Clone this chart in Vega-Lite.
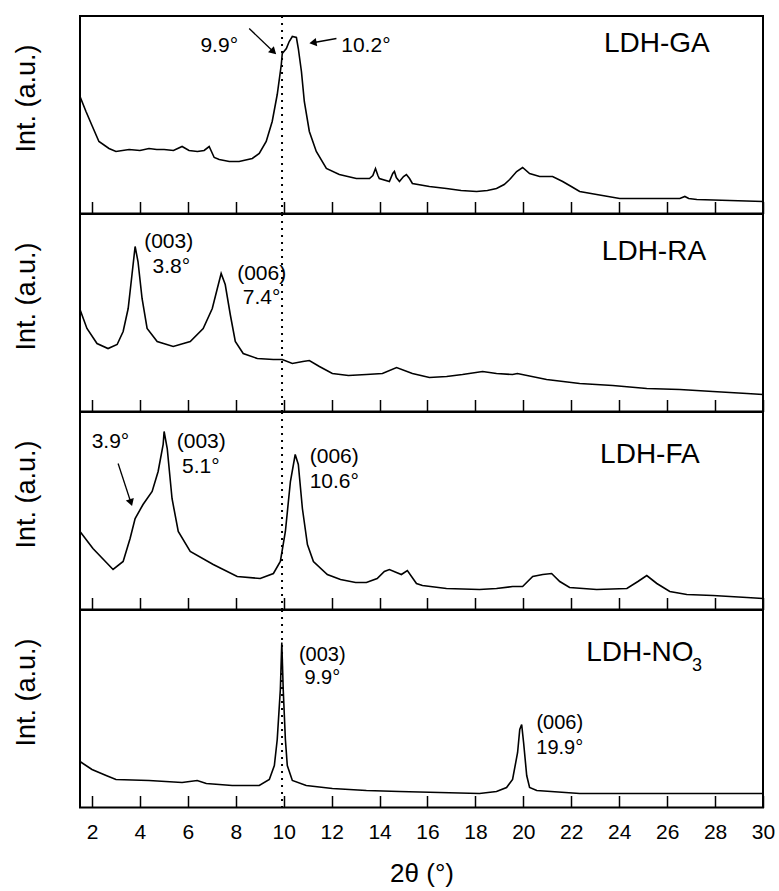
{
  "$schema": "https://vega.github.io/schema/vega-lite/v6.json",
  "background": "white",
  "padding": {"left": 11, "top": 14, "right": 10, "bottom": 5},
  "datasets": {
    "xrd": [
      {"p":"GA","t":1.5,"i":117},{"p":"GA","t":1.75,"i":102},{"p":"GA","t":2.0,"i":88},{"p":"GA","t":2.29,"i":72},{"p":"GA","t":2.71,"i":65},{"p":"GA","t":3.0,"i":62},{"p":"GA","t":3.55,"i":64},{"p":"GA","t":4.0,"i":63},{"p":"GA","t":4.38,"i":65},{"p":"GA","t":4.7,"i":64},{"p":"GA","t":5.01,"i":64},{"p":"GA","t":5.4,"i":63},{"p":"GA","t":5.76,"i":67},{"p":"GA","t":6.05,"i":63},{"p":"GA","t":6.4,"i":62},{"p":"GA","t":6.68,"i":63},{"p":"GA","t":6.89,"i":67},{"p":"GA","t":7.1,"i":56},{"p":"GA","t":7.31,"i":54},{"p":"GA","t":7.73,"i":52},{"p":"GA","t":8.14,"i":52},{"p":"GA","t":8.69,"i":55},{"p":"GA","t":8.98,"i":60},{"p":"GA","t":9.27,"i":72},{"p":"GA","t":9.52,"i":92},{"p":"GA","t":9.73,"i":119},{"p":"GA","t":9.9,"i":149},{"p":"GA","t":9.94,"i":160},{"p":"GA","t":10.11,"i":165},{"p":"GA","t":10.23,"i":172},{"p":"GA","t":10.36,"i":177},{"p":"GA","t":10.53,"i":176},{"p":"GA","t":10.61,"i":165},{"p":"GA","t":10.74,"i":142},{"p":"GA","t":10.86,"i":112},{"p":"GA","t":11.07,"i":82},{"p":"GA","t":11.36,"i":62},{"p":"GA","t":11.78,"i":45},{"p":"GA","t":12.32,"i":39},{"p":"GA","t":13.03,"i":35},{"p":"GA","t":13.58,"i":35},{"p":"GA","t":13.72,"i":38},{"p":"GA","t":13.83,"i":45},{"p":"GA","t":13.93,"i":38},{"p":"GA","t":13.99,"i":35},{"p":"GA","t":14.41,"i":32},{"p":"GA","t":14.55,"i":40},{"p":"GA","t":14.62,"i":42},{"p":"GA","t":14.7,"i":36},{"p":"GA","t":14.83,"i":32},{"p":"GA","t":15.0,"i":37},{"p":"GA","t":15.12,"i":39},{"p":"GA","t":15.25,"i":35},{"p":"GA","t":15.37,"i":30},{"p":"GA","t":16.08,"i":27},{"p":"GA","t":16.79,"i":25},{"p":"GA","t":17.4,"i":23},{"p":"GA","t":18.05,"i":22},{"p":"GA","t":18.5,"i":23},{"p":"GA","t":18.88,"i":25},{"p":"GA","t":19.2,"i":29},{"p":"GA","t":19.43,"i":34},{"p":"GA","t":19.72,"i":42},{"p":"GA","t":19.97,"i":46},{"p":"GA","t":20.26,"i":40},{"p":"GA","t":20.68,"i":37},{"p":"GA","t":21.0,"i":37},{"p":"GA","t":21.22,"i":37},{"p":"GA","t":21.64,"i":32},{"p":"GA","t":22.0,"i":27},{"p":"GA","t":22.35,"i":22},{"p":"GA","t":23.06,"i":19},{"p":"GA","t":24.02,"i":15},{"p":"GA","t":25.15,"i":15},{"p":"GA","t":26.0,"i":15},{"p":"GA","t":26.53,"i":15},{"p":"GA","t":26.74,"i":17},{"p":"GA","t":26.9,"i":15},{"p":"GA","t":27.24,"i":14},{"p":"GA","t":28.62,"i":13},{"p":"GA","t":30,"i":12},
      {"p":"RA","t":1.5,"i":102},{"p":"RA","t":1.79,"i":83},{"p":"RA","t":2.21,"i":68},{"p":"RA","t":2.67,"i":63},{"p":"RA","t":3.05,"i":67},{"p":"RA","t":3.3,"i":80},{"p":"RA","t":3.51,"i":103},{"p":"RA","t":3.67,"i":137},{"p":"RA","t":3.8,"i":165},{"p":"RA","t":3.92,"i":150},{"p":"RA","t":4.09,"i":113},{"p":"RA","t":4.3,"i":83},{"p":"RA","t":4.72,"i":70},{"p":"RA","t":5.39,"i":65},{"p":"RA","t":6.1,"i":70},{"p":"RA","t":6.64,"i":83},{"p":"RA","t":7.02,"i":103},{"p":"RA","t":7.23,"i":123},{"p":"RA","t":7.39,"i":138},{"p":"RA","t":7.56,"i":127},{"p":"RA","t":7.77,"i":97},{"p":"RA","t":7.98,"i":70},{"p":"RA","t":8.31,"i":58},{"p":"RA","t":8.9,"i":53},{"p":"RA","t":9.57,"i":52},{"p":"RA","t":9.94,"i":52},{"p":"RA","t":10.36,"i":48},{"p":"RA","t":10.8,"i":50},{"p":"RA","t":11.07,"i":51},{"p":"RA","t":11.49,"i":45},{"p":"RA","t":12.03,"i":38},{"p":"RA","t":12.7,"i":36},{"p":"RA","t":13.45,"i":37},{"p":"RA","t":14.12,"i":38},{"p":"RA","t":14.71,"i":44},{"p":"RA","t":15.37,"i":38},{"p":"RA","t":16.08,"i":34},{"p":"RA","t":16.8,"i":35},{"p":"RA","t":17.46,"i":37},{"p":"RA","t":18.3,"i":40},{"p":"RA","t":18.88,"i":38},{"p":"RA","t":19.55,"i":37},{"p":"RA","t":19.75,"i":38},{"p":"RA","t":20.97,"i":32},{"p":"RA","t":22.35,"i":28},{"p":"RA","t":23.73,"i":26},{"p":"RA","t":25.15,"i":23},{"p":"RA","t":26.53,"i":22},{"p":"RA","t":27.91,"i":20},{"p":"RA","t":29.33,"i":18},{"p":"RA","t":30,"i":17},
      {"p":"FA","t":1.5,"i":78},{"p":"FA","t":2.04,"i":61},{"p":"FA","t":2.88,"i":40},{"p":"FA","t":3.3,"i":48},{"p":"FA","t":3.59,"i":71},{"p":"FA","t":3.8,"i":91},{"p":"FA","t":4.13,"i":105},{"p":"FA","t":4.51,"i":118},{"p":"FA","t":4.76,"i":138},{"p":"FA","t":4.97,"i":165},{"p":"FA","t":5.01,"i":178},{"p":"FA","t":5.14,"i":161},{"p":"FA","t":5.34,"i":111},{"p":"FA","t":5.6,"i":78},{"p":"FA","t":6.1,"i":58},{"p":"FA","t":7.06,"i":45},{"p":"FA","t":8.06,"i":33},{"p":"FA","t":9.02,"i":31},{"p":"FA","t":9.57,"i":36},{"p":"FA","t":9.86,"i":48},{"p":"FA","t":10.07,"i":78},{"p":"FA","t":10.28,"i":128},{"p":"FA","t":10.48,"i":155},{"p":"FA","t":10.61,"i":145},{"p":"FA","t":10.78,"i":101},{"p":"FA","t":10.99,"i":65},{"p":"FA","t":11.24,"i":48},{"p":"FA","t":11.82,"i":35},{"p":"FA","t":12.37,"i":30},{"p":"FA","t":13.0,"i":27},{"p":"FA","t":13.45,"i":27},{"p":"FA","t":13.9,"i":31},{"p":"FA","t":14.2,"i":38},{"p":"FA","t":14.41,"i":40},{"p":"FA","t":14.91,"i":35},{"p":"FA","t":15.16,"i":39},{"p":"FA","t":15.54,"i":26},{"p":"FA","t":15.79,"i":24},{"p":"FA","t":16.79,"i":21},{"p":"FA","t":18.17,"i":20},{"p":"FA","t":18.88,"i":21},{"p":"FA","t":19.55,"i":23},{"p":"FA","t":19.97,"i":23},{"p":"FA","t":20.39,"i":33},{"p":"FA","t":20.81,"i":35},{"p":"FA","t":21.18,"i":36},{"p":"FA","t":21.52,"i":28},{"p":"FA","t":21.93,"i":22},{"p":"FA","t":23.06,"i":20},{"p":"FA","t":24.32,"i":21},{"p":"FA","t":24.78,"i":28},{"p":"FA","t":25.15,"i":34},{"p":"FA","t":25.57,"i":26},{"p":"FA","t":26.11,"i":18},{"p":"FA","t":26.82,"i":15},{"p":"FA","t":27.91,"i":14},{"p":"FA","t":29.33,"i":12},{"p":"FA","t":30,"i":11},
      {"p":"NO","t":1.5,"i":46},{"p":"NO","t":2.0,"i":38},{"p":"NO","t":2.59,"i":32},{"p":"NO","t":3.0,"i":28},{"p":"NO","t":4.38,"i":27},{"p":"NO","t":5.76,"i":25},{"p":"NO","t":6.39,"i":27},{"p":"NO","t":6.77,"i":24},{"p":"NO","t":7.85,"i":22},{"p":"NO","t":8.98,"i":22},{"p":"NO","t":9.4,"i":28},{"p":"NO","t":9.61,"i":42},{"p":"NO","t":9.73,"i":68},{"p":"NO","t":9.86,"i":118},{"p":"NO","t":9.92,"i":165},{"p":"NO","t":9.98,"i":118},{"p":"NO","t":10.07,"i":68},{"p":"NO","t":10.15,"i":42},{"p":"NO","t":10.36,"i":27},{"p":"NO","t":10.94,"i":22},{"p":"NO","t":12.03,"i":19},{"p":"NO","t":13.45,"i":17},{"p":"NO","t":14.83,"i":16},{"p":"NO","t":18.17,"i":14},{"p":"NO","t":18.88,"i":16},{"p":"NO","t":19.3,"i":20},{"p":"NO","t":19.55,"i":28},{"p":"NO","t":19.76,"i":55},{"p":"NO","t":19.85,"i":78},{"p":"NO","t":19.93,"i":83},{"p":"NO","t":20.01,"i":65},{"p":"NO","t":20.14,"i":32},{"p":"NO","t":20.26,"i":20},{"p":"NO","t":20.56,"i":17},{"p":"NO","t":22.35,"i":14},{"p":"NO","t":30,"i":14}
    ],
    "labels": [
      {"p":"GA","t":7.31,"i":167.5,"text":"9.9°","kind":"peak"},
      {"p":"GA","t":13.43,"i":168,"text":"10.2°","kind":"peak"},
      {"p":"GA","t":25.57,"i":169.5,"text":"LDH-GA","kind":"name"},
      {"p":"RA","t":5.2,"i":170,"text":"(003)","kind":"peak"},
      {"p":"RA","t":5.31,"i":145,"text":"3.8°","kind":"peak"},
      {"p":"RA","t":9.08,"i":138,"text":"(006)","kind":"peak"},
      {"p":"RA","t":9.08,"i":114,"text":"7.4°","kind":"peak"},
      {"p":"RA","t":25.45,"i":160,"text":"LDH-RA","kind":"name"},
      {"p":"FA","t":2.77,"i":168,"text":"3.9°","kind":"peak"},
      {"p":"FA","t":6.56,"i":168,"text":"(003)","kind":"peak"},
      {"p":"FA","t":6.54,"i":143,"text":"5.1°","kind":"peak"},
      {"p":"FA","t":12.11,"i":153,"text":"(006)","kind":"peak"},
      {"p":"FA","t":12.11,"i":128,"text":"10.6°","kind":"peak"},
      {"p":"FA","t":25.28,"i":155,"text":"LDH-FA","kind":"name"},
      {"p":"NO","t":11.61,"i":153,"text":"(003)","kind":"peak"},
      {"p":"NO","t":11.61,"i":130,"text":"9.9°","kind":"peak"},
      {"p":"NO","t":21.52,"i":85,"text":"(006)","kind":"peak"},
      {"p":"NO","t":21.52,"i":60,"text":"19.9°","kind":"peak"},
      {"p":"NO","t":24.86,"i":155,"text":"LDH-NO","kind":"name"},
      {"p":"NO","t":27.25,"i":142,"text":"3","kind":"sub"}
    ],
    "arrows": [
      {"p":"GA","t":8.56,"i":185,"t2":9.54,"i2":162.5,"angle":134},
      {"p":"GA","t":12.2,"i":175,"t2":11.27,"i2":171,"angle":260},
      {"p":"FA","t":3.09,"i":146,"t2":3.61,"i2":108,"angle":162}
    ],
    "marker": [{"t":9.93}]
  },
  "vconcat": [
    {
      "width": 683, "height": 197.5,
      "layer": [
        {"data":{"name":"xrd"},"transform":[{"filter":"datum.p === 'GA'"}],"mark":{"type":"line","color":"black","strokeWidth":1.6},
         "encoding":{"x":{"field":"t","type":"quantitative","scale":{"domain":[1.5,30],"nice":false,"zero":false},
           "axis":{"values":[2,3,4,5,6,7,8,9,10,11,12,13,14,15,16,17,18,19,20,21,22,23,24,25,26,27,28,29,30],"labels":false,"title":null,"tickWidth":1.5,"tickSize":{"condition":{"test":"datum.value % 2 === 0","value":-12},"value":-5}}},
           "y":{"field":"i","type":"quantitative","scale":{"domain":[0,197.5],"nice":false},"axis":{"title":"Int. (a.u.)","labels":false,"ticks":false,"titleFontSize":27,"titlePadding":40,"titleY":82}}}},
        {"data":{"name":"marker"},"mark":{"type":"rule","color":"black","strokeWidth":2,"strokeDash":[2,5]},"encoding":{"x":{"field":"t","type":"quantitative"}}},
        {"data":{"name":"arrows"},"transform":[{"filter":"datum.p === 'GA'"}],"mark":{"type":"rule","color":"black","strokeWidth":1.3},"encoding":{"x":{"field":"t","type":"quantitative"},"y":{"field":"i","type":"quantitative"},"x2":{"field":"t2"},"y2":{"field":"i2"}}},
        {"data":{"name":"arrows"},"transform":[{"filter":"datum.p === 'GA'"}],"mark":{"type":"point","shape":"triangle","filled":true,"color":"black","size":70,"opacity":1},"encoding":{"x":{"field":"t2","type":"quantitative"},"y":{"field":"i2","type":"quantitative"},"angle":{"field":"angle","type":"quantitative","scale":null}}},
        {"data":{"name":"labels"},"transform":[{"filter":"datum.p === 'GA'"}],"mark":{"type":"text","font":"Liberation Sans","color":"black","baseline":"middle","align":"center"},"encoding":{"x":{"field":"t","type":"quantitative"},"y":{"field":"i","type":"quantitative"},"text":{"field":"text"},"size":{"condition":{"test":"datum.kind === 'name'","value":28},"value":21}}}
      ]
    },
    {
      "width": 683, "height": 197.5,
      "layer": [
        {"data":{"name":"xrd"},"transform":[{"filter":"datum.p === 'RA'"}],"mark":{"type":"line","color":"black","strokeWidth":1.6},
         "encoding":{"x":{"field":"t","type":"quantitative","scale":{"domain":[1.5,30],"nice":false,"zero":false},
           "axis":{"values":[2,3,4,5,6,7,8,9,10,11,12,13,14,15,16,17,18,19,20,21,22,23,24,25,26,27,28,29,30],"labels":false,"title":null,"tickWidth":1.5,"tickSize":{"condition":{"test":"datum.value % 2 === 0","value":-12},"value":-5}}},
           "y":{"field":"i","type":"quantitative","scale":{"domain":[0,197.5],"nice":false},"axis":{"title":"Int. (a.u.)","labels":false,"ticks":false,"titleFontSize":27,"titlePadding":40,"titleY":82}}}},
        {"data":{"name":"marker"},"mark":{"type":"rule","color":"black","strokeWidth":2,"strokeDash":[2,5]},"encoding":{"x":{"field":"t","type":"quantitative"}}},
        {"data":{"name":"labels"},"transform":[{"filter":"datum.p === 'RA'"}],"mark":{"type":"text","font":"Liberation Sans","color":"black","baseline":"middle","align":"center"},"encoding":{"x":{"field":"t","type":"quantitative"},"y":{"field":"i","type":"quantitative"},"text":{"field":"text"},"size":{"condition":{"test":"datum.kind === 'name'","value":28},"value":21}}}
      ]
    },
    {
      "width": 683, "height": 197.5,
      "layer": [
        {"data":{"name":"xrd"},"transform":[{"filter":"datum.p === 'FA'"}],"mark":{"type":"line","color":"black","strokeWidth":1.6},
         "encoding":{"x":{"field":"t","type":"quantitative","scale":{"domain":[1.5,30],"nice":false,"zero":false},
           "axis":{"values":[2,3,4,5,6,7,8,9,10,11,12,13,14,15,16,17,18,19,20,21,22,23,24,25,26,27,28,29,30],"labels":false,"title":null,"tickWidth":1.5,"tickSize":{"condition":{"test":"datum.value % 2 === 0","value":-12},"value":-5}}},
           "y":{"field":"i","type":"quantitative","scale":{"domain":[0,197.5],"nice":false},"axis":{"title":"Int. (a.u.)","labels":false,"ticks":false,"titleFontSize":27,"titlePadding":40,"titleY":82}}}},
        {"data":{"name":"marker"},"mark":{"type":"rule","color":"black","strokeWidth":2,"strokeDash":[2,5]},"encoding":{"x":{"field":"t","type":"quantitative"}}},
        {"data":{"name":"arrows"},"transform":[{"filter":"datum.p === 'FA'"}],"mark":{"type":"rule","color":"black","strokeWidth":1.3},"encoding":{"x":{"field":"t","type":"quantitative"},"y":{"field":"i","type":"quantitative"},"x2":{"field":"t2"},"y2":{"field":"i2"}}},
        {"data":{"name":"arrows"},"transform":[{"filter":"datum.p === 'FA'"}],"mark":{"type":"point","shape":"triangle","filled":true,"color":"black","size":70,"opacity":1},"encoding":{"x":{"field":"t2","type":"quantitative"},"y":{"field":"i2","type":"quantitative"},"angle":{"field":"angle","type":"quantitative","scale":null}}},
        {"data":{"name":"labels"},"transform":[{"filter":"datum.p === 'FA'"}],"mark":{"type":"text","font":"Liberation Sans","color":"black","baseline":"middle","align":"center"},"encoding":{"x":{"field":"t","type":"quantitative"},"y":{"field":"i","type":"quantitative"},"text":{"field":"text"},"size":{"condition":{"test":"datum.kind === 'name'","value":28},"value":21}}}
      ]
    },
    {
      "width": 683, "height": 197.5,
      "layer": [
        {"data":{"name":"xrd"},"transform":[{"filter":"datum.p === 'NO'"}],"mark":{"type":"line","color":"black","strokeWidth":1.6},
         "encoding":{"x":{"field":"t","type":"quantitative","scale":{"domain":[1.5,30],"nice":false,"zero":false},
           "axis":{"values":[2,3,4,5,6,7,8,9,10,11,12,13,14,15,16,17,18,19,20,21,22,23,24,25,26,27,28,29,30],"labels":true,"labelExpr":"datum.value % 2 === 0 ? datum.label : ''","labelFlush":false,"labelOverlap":false,"labelFontSize":21,"labelPadding":26,"title":"2θ (°)","titleFontSize":26,"titlePadding":18,"tickWidth":1.5,"tickSize":{"condition":{"test":"datum.value % 2 === 0","value":-12},"value":-5}}},
           "y":{"field":"i","type":"quantitative","scale":{"domain":[0,197.5],"nice":false},"axis":{"title":"Int. (a.u.)","labels":false,"ticks":false,"titleFontSize":27,"titlePadding":40,"titleY":82}}}},
        {"data":{"name":"marker"},"mark":{"type":"rule","color":"black","strokeWidth":2,"strokeDash":[2,5]},"encoding":{"x":{"field":"t","type":"quantitative"}}},
        {"data":{"name":"labels"},"transform":[{"filter":"datum.p === 'NO'"}],"mark":{"type":"text","font":"Liberation Sans","color":"black","baseline":"middle","align":"center"},"encoding":{"x":{"field":"t","type":"quantitative"},"y":{"field":"i","type":"quantitative"},"text":{"field":"text"},"size":{"condition":[{"test":"datum.kind === 'name'","value":28},{"test":"datum.kind === 'sub'","value":18}],"value":20}}}
      ]
    }
  ],
  "spacing": 0,
  "bounds": "flush",
  "config": {
    "view": {"stroke": "black", "strokeWidth": 2},
    "axis": {"labelFont": "Liberation Sans", "titleFont": "Liberation Sans", "labelColor": "black", "titleColor": "black", "tickColor": "black", "domain": false, "grid": false, "titleFontWeight": "normal"}
  }
}
